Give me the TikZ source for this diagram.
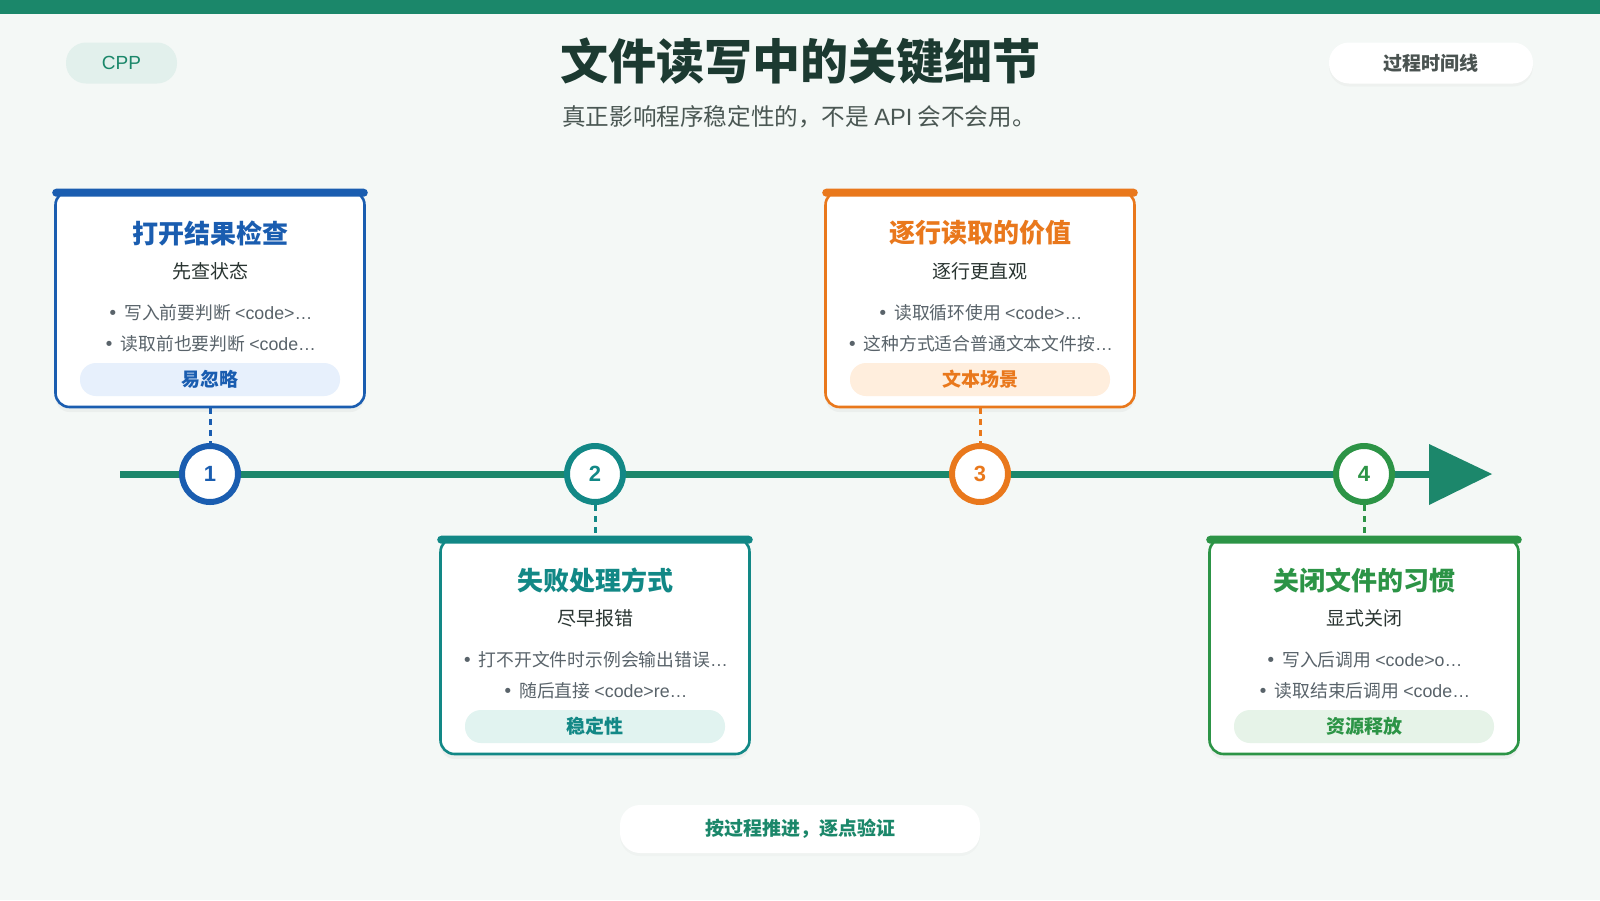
\documentclass[tikz,border=0pt]{standalone}
\usepackage{fontspec}
\setmainfont{Noto Sans CJK SC}
\newfontfamily\lat{Liberation Sans}
\newfontfamily\dvs{DejaVu Sans}
\newcommand{\bu}{{\dvs •}\hspace{0.35em}}
\usetikzlibrary{calc,shadows}
\definecolor{bg}{HTML}{F4F8F6}
\definecolor{topbar}{HTML}{1B876A}
\definecolor{tline}{HTML}{1C876B}
\definecolor{ttl}{HTML}{1C3A31}
\definecolor{sub}{HTML}{4A5753}
\definecolor{cblue}{HTML}{1A5DB0}
\definecolor{cteal}{HTML}{128886}
\definecolor{corange}{HTML}{E9781C}
\definecolor{cgreen}{HTML}{2C9446}
\definecolor{lblue}{HTML}{E7F0FC}
\definecolor{lteal}{HTML}{E1F3F0}
\definecolor{lorange}{HTML}{FFEEDD}
\definecolor{lgreen}{HTML}{E6F3E8}
\definecolor{dark}{HTML}{2A3532}
\definecolor{bul}{HTML}{59636A}
\definecolor{cpptxt}{HTML}{1B876A}
\definecolor{cppfill}{HTML}{E2F0EC}
\tikzset{
  cardbox/.style={draw=#1, line width=2.6pt, fill=white, rounded corners=14pt,
    minimum width=309pt, minimum height=216pt, inner sep=0pt,
    drop shadow={opacity=0.07, shadow xshift=0pt, shadow yshift=-5pt}},
  ctitle/.style={font=\fontsize{26}{30}\selectfont\bfseries, text=#1},
  csub/.style={font=\fontsize{19}{22}\selectfont, text=dark},
  cbul/.style={font=\fontsize{17.8}{20}\selectfont, text=bul},
  tagpill/.style={fill=#1, rounded corners=16pt, minimum width=260pt, minimum height=33pt, inner sep=0pt},
  tagtxt/.style={font=\fontsize{19}{22}\selectfont\bfseries, text=#1},
  numcirc/.style={circle, draw=#1, line width=6pt, fill=white, minimum size=56pt, inner sep=0pt,
    font=\lat\fontsize{22}{24}\selectfont\bfseries, text=#1},
  dashcon/.style={draw=#1, line width=3pt, dash pattern=on 6pt off 5pt},
  pill/.style={rounded corners=20pt, inner sep=0pt},
}
\begin{document}
\begin{tikzpicture}[x=1pt,y=-1pt]
\fill[bg] (0,0) rectangle (1600,900);
\useasboundingbox (0,0) rectangle (1600,900);
\fill[topbar] (0,0) rectangle (1600,14);

% header
\node[pill, fill=cppfill, minimum width=111pt, minimum height=41pt,
  font=\lat\fontsize{19}{22}\selectfont, text=cpptxt] (cpp) at (121.5,63) {CPP};
\node[font=\fontsize{48}{54}\selectfont\bfseries, text=ttl] (title) at (800,61) {文件读写中的关键细节};
\node[font=\fontsize{23.6}{27}\selectfont, text=sub] (subtitle) at (799,117) {真正影响程序稳定性的，不是 {\lat API} 会不会用。};
\node[pill, fill=white, minimum width=204pt, minimum height=41pt,
  drop shadow={opacity=0.05, shadow xshift=0pt, shadow yshift=-3pt},
  font=\fontsize{19}{22}\selectfont\bfseries, text=dark!85] (tl) at (1431,63) {过程时间线};

% timeline
\coordinate (tstart) at (120,474);
\coordinate (tend) at (1432,474);
\draw[tline, line width=7pt] (tstart) -- (tend);
\fill[tline] (1429,444) -- (1492,474) -- (1429,505) -- cycle;

\node[numcirc=cblue] (n1) at (210,474) {1};
\node[numcirc=cteal] (n2) at (595,474) {2};
\node[numcirc=corange] (n3) at (980,474) {3};
\node[numcirc=cgreen] (n4) at (1364,474) {4};

% cards
\newcommand{\tlcard}[9]{%
  \node[cardbox=#4] (#1) at (#2,#3+111) {};
  \fill[#4, rounded corners=4pt] ($(#1.north west)+(-2,-1)$) rectangle ($(#1.north east)+(2,7)$);
  \node[ctitle=#4] (#1t) at (#2,#3+45) {#6};
  \node[csub] (#1s) at (#2,#3+83) {#7};
  \node[cbul] (#1b1) at (#2,#3+125) {#8};
  \node[cbul] (#1b2) at (#2,#3+156) {#9};
}
\tlcard{c1}{210}{188}{cblue}{lblue}{打开结果检查}{先查状态}{\bu 写入前要判断 {\lat <code>…}}{\bu 读取前也要判断 {\lat <code…}}
\node[tagpill=lblue] (g1) at (210,379.5) {};
\node[tagtxt=cblue] at (g1) {易忽略};

\tlcard{c2}{595}{535}{cteal}{lteal}{失败处理方式}{尽早报错}{\bu 打不开文件时示例会输出错误{\lat …}}{\bu 随后直接 {\lat <code>re…}}
\node[tagpill=lteal] (g2) at (595,726.5) {};
\node[tagtxt=cteal] at (g2) {稳定性};

\tlcard{c3}{980}{188}{corange}{lorange}{逐行读取的价值}{逐行更直观}{\bu 读取循环使用 {\lat <code>…}}{\bu 这种方式适合普通文本文件按{\lat …}}
\node[tagpill=lorange] (g3) at (980,379.5) {};
\node[tagtxt=corange] at (g3) {文本场景};

\tlcard{c4}{1364}{535}{cgreen}{lgreen}{关闭文件的习惯}{显式关闭}{\bu 写入后调用 {\lat <code>o…}}{\bu 读取结束后调用 {\lat <code…}}
\node[tagpill=lgreen] (g4) at (1364,726.5) {};
\node[tagtxt=cgreen] at (g4) {资源释放};

% connectors
\draw[dashcon=cblue] (c1.south) -- (n1.north);
\draw[dashcon=cteal] (n2.south) -- (c2.north);
\draw[dashcon=corange] (c3.south) -- (n3.north);
\draw[dashcon=cgreen] (n4.south) -- (c4.north);

% footer
\node[pill, fill=white, minimum width=360pt, minimum height=48pt,
  drop shadow={opacity=0.04, shadow xshift=0pt, shadow yshift=-3pt},
  font=\fontsize{19}{22}\selectfont\bfseries, text=topbar] (foot) at (800,829) {按过程推进，逐点验证};
\end{tikzpicture}
\end{document}
